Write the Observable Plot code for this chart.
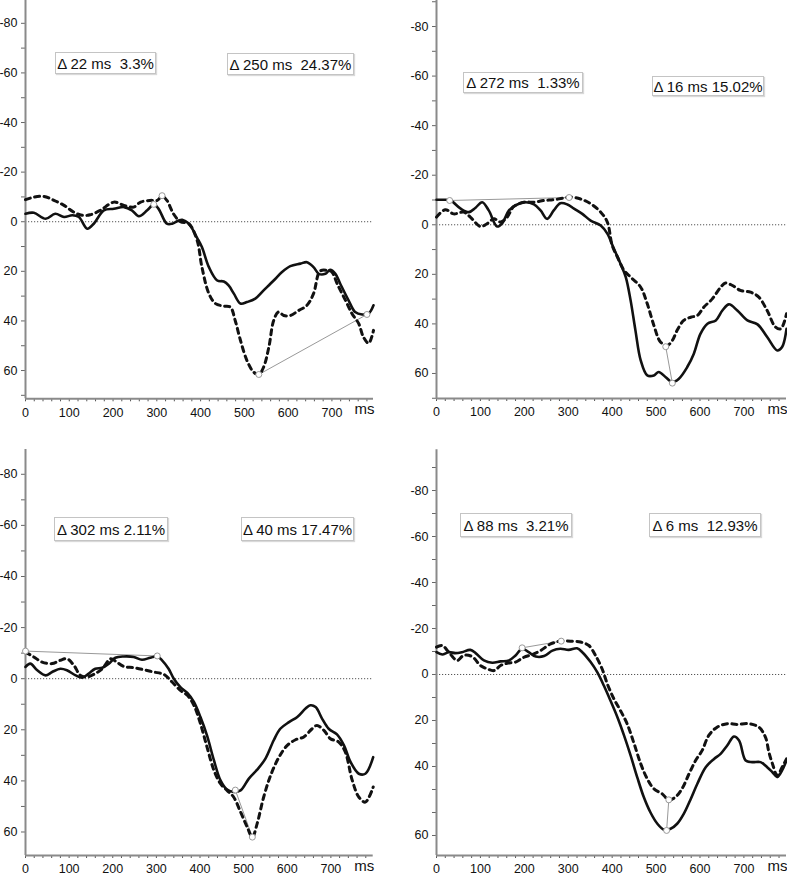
<!DOCTYPE html>
<html><head><meta charset="utf-8">
<script src="https://cdn.jsdelivr.net/npm/d3@7"></script>
<script src="https://cdn.jsdelivr.net/npm/@observablehq/plot@0.6"></script>
<style>
body{margin:0;background:#fff;}
#root{position:relative;width:787px;height:875px;overflow:hidden;font-family:"Liberation Sans",Arial,sans-serif;background:#fff;}
.panel{position:absolute;}
.box{position:absolute;border:1px solid #c4c4c4;background:#fff;box-shadow:1px 1px 1px rgba(0,0,0,0.15);font-size:15px;white-space:pre;display:flex;align-items:center;justify-content:center;color:#111;box-sizing:border-box;font-family:"Liberation Sans",Arial,sans-serif;}
</style></head>
<body><div id="root"></div>
<script>
// ---------- data: [ms, amplitude] ----------
const p1Solid = [[0,-3.2],[19,-3.6],[46,-1.2],[68,-3.2],[88,-1.9],[107,-2.6],[122,-1.9],[141,2.8],[156,0.8],[179,-4.6],[202,-5.2],[225,-5.9],[243,-4.6],[259,-2.2],[278,-4.6],[293,-7.0],[304,-5.2],[323,0.8],[335,0.8],[350,-0.5],[358,-0.8],[373,0.8],[392,6.5],[403,10.2],[419,18.3],[438,23.7],[453,24.1],[464,25.7],[476,29],[491,33],[506,32.4],[525,31],[544,27.7],[567,23.7],[586,20.3],[605,17.9],[628,16.9],[643,16.3],[658,18.3],[670,21],[685,21],[696,19.4],[708,21],[719,25],[738,31.7],[753,36.4],[769,37.4],[784,37],[795,33.7]];
const p1Dashed = [[0,-8.9],[19,-9.9],[42,-10.2],[65,-8.6],[88,-6.6],[110,-3.9],[129,-2.6],[148,-2.8],[171,-4.6],[202,-7.9],[225,-6.6],[247,-5.9],[263,-7.9],[285,-8.6],[301,-8.6],[312,-10.3],[323,-8.6],[338,-3.2],[354,0],[373,0.8],[392,7.5],[403,18.3],[419,29],[434,33],[453,34],[468,34.4],[479,39.8],[491,47.8],[506,56],[521,60.6],[533,61.6],[544,58.6],[556,50.5],[567,39.8],[578,36.4],[590,37.8],[605,37.8],[624,35.8],[643,33.7],[658,29],[673,19.9],[689,19.6],[700,20.3],[712,25],[731,31.7],[746,37.1],[761,41],[772,46.5],[784,49],[795,43.8]];
const p1Links = [[293,-7.0,312,-10.5],[533,61.6,780,37.4]];
const p1Labels = ["Δ 22 ms  3.3%", "Δ 250 ms  24.37%"];

const p2Solid = [[0,-10.1],[17,-10.1],[32,-9.8],[55,-6.5],[74,-5.1],[89,-6.9],[104,-9.1],[119,-5.8],[138,0.7],[150,-0.7],[165,-5.8],[184,-8.2],[203,-9.1],[222,-8.2],[237,-5.8],[252,-2.4],[267,-5.8],[282,-8.7],[298,-8.2],[313,-6.5],[332,-4.4],[351,-1.7],[374,0.3],[389,3.6],[404,9.7],[419,15.7],[431,21.1],[442,30.5],[453,42.6],[465,54.7],[480,60.8],[495,60.8],[506,59.4],[522,61.5],[537,63.5],[552,62.1],[571,57.4],[586,52],[601,44],[617,39.9],[636,38.6],[651,34.6],[666,32.1],[685,34.6],[708,38.6],[731,40.2],[753,45.3],[776,50.7],[787,49.3],[797,42]];
const p2Dashed = [[0,-3.1],[20,-6.1],[39,-4.4],[62,-5.1],[77,-3.1],[100,0.7],[115,-0.4],[131,-2.4],[146,-1.1],[161,-3.1],[176,-7.4],[199,-9.1],[222,-9.1],[245,-9.8],[267,-10.1],[290,-10.8],[305,-11.2],[328,-10.4],[351,-8.5],[374,-5.1],[389,-1.1],[400,8.3],[412,13],[427,18.4],[442,21.1],[465,25.2],[480,31.9],[495,40.6],[510,47.3],[525,48.7],[537,46.7],[548,42.6],[563,38.6],[579,37.3],[594,36.6],[609,33.2],[628,29.9],[647,25.2],[658,23.5],[674,24.5],[692,26.5],[715,27.2],[734,29.2],[753,34.6],[772,41.3],[784,42],[797,35.9]];
const p2Links = [[30,-9.8,302,-11.0],[522,49.2,537,63.9]];
const p2Labels = ["Δ 272 ms  1.33%", "Δ 16 ms 15.02%"];

const p3Solid = [[0,-4.6],[11,-5.9],[27,-3.3],[46,-1.3],[61,-2.6],[80,-3.9],[95,-3.3],[115,-1.3],[130,-0.4],[145,-2.0],[160,-3.9],[176,-4.3],[191,-5.9],[206,-8.2],[225,-8.7],[248,-8.5],[267,-7.4],[286,-8.2],[302,-8.7],[313,-7.2],[328,-3.9],[340,0],[355,3.3],[371,5.6],[386,9.1],[401,15],[416,22.2],[432,32],[447,39.8],[462,43.4],[477,44.3],[493,43.7],[512,39.1],[531,35.6],[550,31.3],[569,24.1],[584,19.6],[604,17],[623,15],[642,11.7],[653,10.4],[665,11.1],[680,15.7],[695,19.6],[714,21.8],[730,26.1],[745,32.6],[764,37.2],[779,37.2],[797,30.7]];
const p3Dashed = [[0,-10.4],[19,-8.5],[38,-6.5],[61,-5.9],[80,-7.2],[95,-7.8],[111,-5.2],[126,-1.3],[141,-0.7],[160,-2.0],[176,-3.9],[195,-7.8],[206,-6.9],[225,-4.8],[248,-4.3],[271,-3.5],[294,-2.6],[317,-1.7],[336,1.3],[355,4.6],[371,6.5],[386,10.4],[401,17.6],[416,26.7],[432,35.9],[447,41.1],[462,43.7],[477,46.3],[493,52.2],[508,58],[520,62],[531,56.7],[546,46.3],[562,37.8],[581,30.7],[600,26.1],[619,23.9],[638,22.8],[657,19.6],[668,18.3],[684,20.2],[699,23.5],[718,24.8],[733,28.7],[749,39.8],[764,46.3],[779,48.3],[797,42.4]];
const p3Links = [[0,-10.8,302,-8.9],[481,43.6,520,62.0]];
const p3Labels = ["Δ 302 ms 2.11%", "Δ 40 ms 17.47%"];

const p4Solid = [[0,-9.7],[13,-8.7],[28,-9.7],[43,-9.3],[58,-9.7],[77,-10.7],[89,-9.3],[108,-6.1],[127,-5.1],[146,-5.7],[165,-6.1],[180,-8.3],[195,-11.2],[210,-9.7],[226,-7.8],[245,-8],[264,-10.4],[282,-11.2],[301,-10.7],[320,-11.4],[332,-9.7],[351,-5.4],[366,-1],[381,4.8],[396,11.3],[412,18.6],[427,26.5],[442,35.2],[457,44.6],[472,53.3],[487,59.9],[503,64.9],[518,67.5],[533,67.1],[548,64.9],[563,60.6],[579,54.1],[594,47.5],[613,40.3],[632,36.7],[647,34.5],[662,30.9],[677,27],[689,28.7],[704,37.4],[719,38.1],[738,38.1],[753,40.3],[765,42.5],[776,44.6],[787,41.7],[797,37.4]];
const p4Dashed = [[0,-11.9],[13,-12.6],[28,-9.7],[47,-6.1],[62,-8.3],[81,-7.8],[100,-3.9],[115,-2.5],[131,-1.7],[146,-3.9],[161,-4.9],[180,-5.4],[199,-7.5],[218,-8.7],[237,-10.4],[260,-13.3],[282,-14.5],[305,-14.5],[328,-14.1],[347,-12.6],[362,-8.3],[377,-2.5],[389,4.1],[404,10.6],[419,15.7],[434,21.4],[450,30.1],[465,38.8],[480,45.4],[495,49.7],[514,51.9],[529,54.5],[544,53.3],[559,49.7],[575,43.2],[590,37.4],[605,33],[620,26.5],[639,22.9],[662,21.4],[685,21.7],[711,21.4],[734,22.9],[749,27.2],[757,33.8],[765,38.8],[776,43.9],[787,40.3],[797,36.7]];
const p4Links = [[195,-11.6,284,-14.5],[529,54.5,524,67.8]];
const p4Labels = ["Δ 88 ms  3.21%", "Δ 6 ms  12.93%"];

// ---------- ticks ----------
const xMajorTicks = [0,100,200,300,400,500,600,700];
const xMinorTicks = [20,40,60,80,120,140,160,180,220,240,260,280,320,340,360,380,420,440,460,480,520,540,560,580,620,640,660,680,720,740,760,780];
const yMajorTicks = [-80,-60,-40,-20,0,20,40,60];
const yMajorLabels = ["-80","-60","-40","-20","0","20","40","60"];
const yMinorTicks = [-90,-70,-50,-30,-10,10,30,50,70];
const p4YMajorTicks = [-80,-60,-40,-20,0,20,40,70];
const p4YMajorLabels = ["-80","-60","-40","-20","0","20","40","60"];
const p4YMinorTicks = [-90,-70,-50,-30,-10,10,30,50,60];

// ---------- layout ----------
const panels = [
  {solid:p1Solid, dashed:p1Dashed, links:p1Links, labels:p1Labels, yT:yMajorTicks, yL:yMajorLabels, yM:yMinorTicks,
   left:0, top:0, width:400, height:430, mL:25, mR:27, mT:0, mB:31.7, xd:[0,795], yd:[-89.2,71.4],
   boxes:[[55,52,101,22],[227,53,127,22]]},
  {solid:p2Solid, dashed:p2Dashed, links:p2Links, labels:p2Labels, yT:yMajorTicks, yL:yMajorLabels, yM:yMinorTicks,
   left:400, top:0, width:387, height:430, mL:36, mR:1, mT:0, mB:32, xd:[0,797], yd:[-90.5,70.1],
   boxes:[[463,72,120,21],[652,76,112,20]]},
  {solid:p3Solid, dashed:p3Dashed, links:p3Links, labels:p3Labels, yT:yMajorTicks, yL:yMajorLabels, yM:yMinorTicks,
   left:0, top:430, width:400, height:445, mL:25, mR:27.3, mT:19, mB:20, xd:[0,797], yd:[-89.7,69.2],
   boxes:[[54,517,114,24],[241,517,113,24]]},
  {solid:p4Solid, dashed:p4Dashed, links:p4Links, labels:p4Labels, yT:p4YMajorTicks, yL:p4YMajorLabels, yM:p4YMinorTicks,
   left:400, top:430, width:387, height:445, mL:36, mR:1, mT:19.3, mB:20, xd:[0,797], yd:[-97.7,78.7],
   boxes:[[460,513,112,24],[649,513,112,24]]}
];

const root = document.getElementById("root");
for (const p of panels) {
  const ends = p.links.flatMap(l => [[l[0], l[1]], [l[2], l[3]]]);
  const yMinor = p.yM.filter(v => v >= p.yd[0] && v <= p.yd[1]);
  const chart = Plot.plot({
    width: p.width, height: p.height,
    marginLeft: p.mL, marginRight: p.mR, marginTop: p.mT, marginBottom: p.mB,
    x: {domain: p.xd, label: null},
    y: {domain: p.yd, reverse: true, label: null},
    style: {fontFamily: '"Liberation Sans", Arial, sans-serif', fontSize: "12px", color: "#111", background: "transparent", overflow: "visible"},
    marks: [
      Plot.ruleY([0], {stroke: "#555", strokeWidth: 1, strokeDasharray: "1.2,1.8"}),
      Plot.axisY(yMinor, {tickSize: 4, tickFormat: () => "", stroke: "#666", label: null}),
      Plot.axisY(p.yT, {tickSize: 4, tickPadding: 4, stroke: "#666", fontSize: 12.5, label: null,
        tickFormat: d => p.yL[p.yT.indexOf(d)]}),
      Plot.axisX(xMinorTicks, {tickSize: 3, tickFormat: () => "", stroke: "#555", label: null}),
      Plot.axisX(xMajorTicks, {tickSize: 3, tickPadding: 6, stroke: "#555", fontSize: 12.5, label: null}),
      Plot.ruleX([p.xd[0]], {stroke: "#8a8a8a", strokeWidth: 2}),
      Plot.ruleY([p.yd[1]], {stroke: "#8a8a8a", strokeWidth: 2}),
      Plot.link(p.links, {x1: d => d[0], y1: d => d[1], x2: d => d[2], y2: d => d[3], stroke: "#999", strokeWidth: 1}),
      Plot.line(p.solid, {x: d => d[0], y: d => d[1], curve: "catmull-rom", stroke: "#111", strokeWidth: 2.6}),
      Plot.line(p.dashed, {x: d => d[0], y: d => d[1], curve: "catmull-rom", stroke: "#111", strokeWidth: 3, strokeDasharray: "5,4.5"}),
      Plot.dot(ends, {x: d => d[0], y: d => d[1], r: 3, stroke: "#999", fill: "white", strokeWidth: 1}),
      Plot.text(["ms"], {frameAnchor: "bottom-right", dy: 15, dx: 1, textAnchor: "end", fontSize: 15, fill: "#111"})
    ]
  });
  chart.classList.add("panel");
  chart.style.left = p.left + "px";
  chart.style.top = p.top + "px";
  root.appendChild(chart);
  p.boxes.forEach((b, i) => {
    const div = document.createElement("div");
    div.className = "box";
    div.style.left = b[0] + "px"; div.style.top = b[1] + "px";
    div.style.width = b[2] + "px"; div.style.height = b[3] + "px";
    div.textContent = p.labels[i];
    root.appendChild(div);
  });
}
</script>
</body></html>
